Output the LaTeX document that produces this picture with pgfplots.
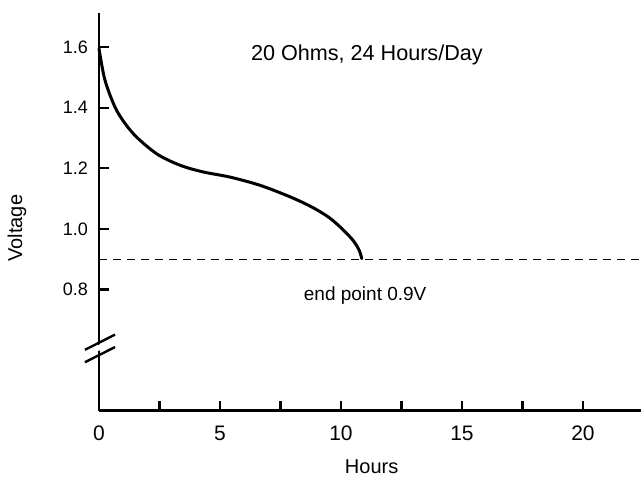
\documentclass[border=0pt]{standalone}
\usepackage{pgfplots}
\pgfplotsset{compat=1.18}
\usepackage{fontspec}
\setmainfont{Liberation Sans}
\begin{document}
\begin{tikzpicture}
\begin{axis}[
  scale only axis,
  width=271pt, height=198.85pt,
  xmin=0, xmax=22.4, ymin=0.4, ymax=1.7125,
  axis lines=left,
  axis line style={-, line width=1.3pt},
  xtick={0,5,10,15,20},
  minor xtick={2.5,7.5,12.5,17.5,22.5},
  ytick={0.8,1.0,1.2,1.4,1.6},
  yticklabels={0.8,1.0,1.2,1.4,1.6},
  tick align=inside,
  major tick length=4.8pt,
  minor tick length=4.8pt,
  every tick/.style={black, line width=1.1pt},
  /pgf/number format/assume math mode=true,
  xticklabel style={font=\fontsize{10.5}{12}\selectfont, yshift=-4pt},
  yticklabel style={font=\fontsize{9}{11}\selectfont, xshift=-2pt},
  xlabel={Hours}, ylabel={Voltage},
  xlabel style={font=\fontsize{10}{12}\selectfont, at={(axis description cs:0.503,-0.1408)}, anchor=center},
  ylabel style={font=\fontsize{10}{12}\selectfont, at={(axis description cs:-0.1513,0.459)}, anchor=center},
  clip=false,
]
\addplot[black, line width=1.5pt, smooth, line cap=round] coordinates {
  (0,1.595) (0.25,1.49) (0.73,1.391) (1.42,1.314) (2.38,1.248) (3.35,1.21)
  (4.3,1.188) (5.41,1.171) (6.65,1.144) (7.89,1.106)
  (8.8,1.072) (9.5,1.038) (10.05,1.0) (10.5,0.962) (10.75,0.93) (10.86,0.902)
};
\addplot[black, line width=0.6pt, dash pattern=on 4pt off 3pt] coordinates {(0,0.9) (22.4,0.9)};
\fill[white] (axis cs:-0.25,0.588) -- (axis cs:0.25,0.608) -- (axis cs:0.25,0.628) -- (axis cs:-0.25,0.608) -- cycle;
\draw[black, line width=1.2pt] (axis cs:-0.58,0.601) -- (axis cs:0.66,0.651);
\draw[black, line width=1.2pt] (axis cs:-0.58,0.560) -- (axis cs:0.66,0.610);
\node[font=\fontsize{10.8}{13}\selectfont] at (axis cs:11.07,1.573) {20 Ohms, 24 Hours/Day};
\node[font=\fontsize{9.5}{12}\selectfont] at (axis cs:11.0,0.78) {end point 0.9V};
\end{axis}
\pgfresetboundingbox
\path[use as bounding box] (-49.5pt,-34.65pt) rectangle (271pt,205.35pt);
\end{tikzpicture}
\end{document}
